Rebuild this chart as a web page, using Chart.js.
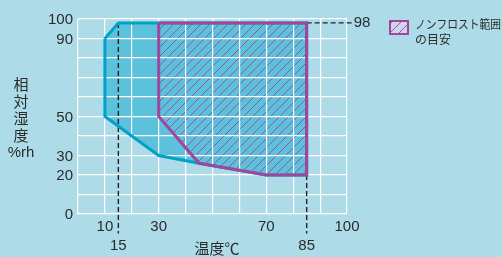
<!DOCTYPE html>
<html>
<head>
<meta charset="utf-8">
<script src="https://cdn.jsdelivr.net/npm/chart.js@4/dist/chart.umd.min.js"></script>
<style>
  html, body { margin: 0; padding: 0; background: #addce8; }
  #wrap { width: 502px; height: 257px; }
</style>
</head>
<body>
<div id="wrap"><canvas id="chart" width="502" height="257"></canvas></div>
<script>
// operating range (temperature °C / humidity %rh)
const rangeTemp = [10, 15, 85, 85, 70, 45, 30, 10, 10];
const rangeRh = [90, 98, 98, 20, 20, 26, 30, 50, 90];

// non-frost range
const frostTemp = [30, 85, 85, 70, 45, 30, 30];
const frostRh = [98, 98, 20, 20, 26, 50, 98];

// ticks
const yTickLabels = [0, 20, 30, 50, 90, 100];
const xTickLabels = [10, 30, 70, 100];
const xMarkLabels = [15, 85];
const rhMark = 98;

const CYAN = '#00a3c6';
const CYAN_FILL = '#5cc1da';
const MAGENTA = '#a0479c';
const TEXT = '#2b2b2b';
const NUM_FONT = '15px "Liberation Sans", Arial, sans-serif';
const JP_FONT = '"Noto Sans CJK JP", sans-serif';

function hatchPattern(bg) {
    const c = document.createElement('canvas');
    c.width = 9;
    c.height = 9;
    const g = c.getContext('2d');
    if (bg) {
        g.fillStyle = bg;
        g.fillRect(0, 0, 9, 9);
    }
    g.strokeStyle = MAGENTA;
    g.lineWidth = 0.9;
    g.beginPath();
    g.moveTo(-1, 10); g.lineTo(10, -1);
    g.moveTo(-2, 2); g.lineTo(2, -2);
    g.moveTo(7, 11); g.lineTo(11, 7);
    g.stroke();
    return g.createPattern(c, 'repeat');
}

function toPoints(xs, ys) {
    return xs.map((x, i) => ({ x: x, y: ys[i] }));
}

const dashStyle = {
    borderColor: '#222',
    borderWidth: 1.4,
    borderDash: [5, 3],
    pointRadius: 0,
    fill: false,
    showLine: true,
    clip: false,
    order: 2
};

const labelsPlugin = {
    id: 'labels',
    afterDraw(chart) {
        const ctx = chart.ctx;
        const xs = chart.scales.x;
        const ys = chart.scales.y;
        ctx.save();
        ctx.fillStyle = TEXT;
        ctx.font = NUM_FONT;
        ctx.textBaseline = 'middle';

        ctx.textAlign = 'right';
        yTickLabels.forEach((v) => {
            ctx.fillText(String(v), xs.left - 5, ys.getPixelForValue(v) + 1);
        });

        ctx.textAlign = 'center';
        xTickLabels.forEach((v) => {
            ctx.fillText(String(v), xs.getPixelForValue(v), 227);
        });
        xMarkLabels.forEach((v) => {
            ctx.fillText(String(v), xs.getPixelForValue(v), 246);
        });

        ctx.textAlign = 'left';
        ctx.fillText(String(rhMark), xs.getPixelForValue(102.5), ys.getPixelForValue(rhMark));

        // axis titles
        ctx.font = '15px ' + JP_FONT;
        ctx.textAlign = 'center';
        ['相', '対', '湿', '度'].forEach((ch, i) => {
            ctx.fillText(ch, 21, 84 + i * 17);
        });
        ctx.font = NUM_FONT;
        ctx.fillText('%rh', 21, 153);
        ctx.font = '15px ' + JP_FONT;
        ctx.fillText('温度℃', 217, 248);

        // legend
        ctx.fillStyle = hatchPattern('#cdd6ee');
        ctx.fillRect(390, 21, 18, 13);
        ctx.strokeStyle = MAGENTA;
        ctx.lineWidth = 2;
        ctx.strokeRect(390, 21, 18, 13);
        ctx.fillStyle = TEXT;
        ctx.font = '12px ' + JP_FONT;
        ctx.textAlign = 'left';
        ctx.fillText('ノンフロスト範囲', 415, 24, 86);
        ctx.fillText('の目安', 415, 39);
        ctx.restore();
    }
};

new Chart(document.getElementById('chart'), {
    type: 'scatter',
    data: {
        datasets: [
            {
                data: toPoints(frostTemp, frostRh),
                showLine: true,
                borderColor: MAGENTA,
                borderWidth: 3,
                backgroundColor: hatchPattern(null),
                fill: 'shape',
                pointRadius: 0,
                order: 0
            },
            {
                data: toPoints(rangeTemp, rangeRh),
                showLine: true,
                borderColor: CYAN,
                borderWidth: 3,
                backgroundColor: CYAN_FILL,
                fill: 'shape',
                pointRadius: 0,
                order: 1
            },
            Object.assign({ data: toPoints([15, 15], [rhMark, -10]) }, dashStyle),
            Object.assign({ data: toPoints([85, 85], [20, -10]) }, dashStyle),
            Object.assign({ data: toPoints([85, 102], [rhMark, rhMark]) }, dashStyle)
        ]
    },
    options: {
        responsive: false,
        animation: false,
        layout: {
            padding: { left: 78, top: 19, right: 155, bottom: 43 }
        },
        plugins: {
            legend: { display: false },
            tooltip: { enabled: false },
            filler: { drawTime: 'beforeDraw' }
        },
        scales: {
            x: {
                type: 'linear',
                min: 0,
                max: 100,
                ticks: { display: false, stepSize: 10 },
                grid: { color: '#ffffff', lineWidth: 1.2, drawTicks: false },
                border: { display: false }
            },
            y: {
                type: 'linear',
                min: 0,
                max: 100,
                ticks: { display: false, stepSize: 10 },
                grid: { color: '#ffffff', lineWidth: 1.2, drawTicks: false },
                border: { display: false }
            }
        }
    },
    plugins: [labelsPlugin]
});
</script>
</body>
</html>
